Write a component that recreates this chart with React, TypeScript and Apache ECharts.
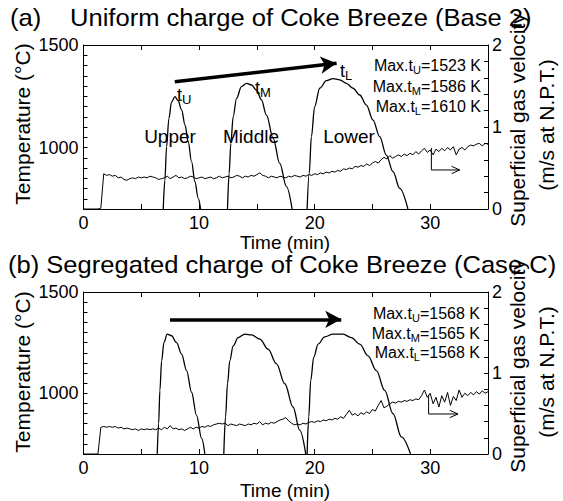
import React, { useEffect, useRef } from 'react';
import * as echarts from 'echarts';

const FONT = '"Liberation Sans", Arial, Helvetica, sans-serif';

// ---- Time axis ----
const TIME_MIN = 0;
const TIME_MAX = 35;
const TIME_LABELS = [0, 10, 20, 30];

// ---- Temperature axis (°C) ----
const TEMP_MIN = 700;
const TEMP_MAX = 1500;
const TEMP_LABELS = [1000, 1500];

// ---- Gas velocity axis (m/s at N.P.T.) ----
const VEL_MIN = 0;
const VEL_MAX = 2;
const VEL_LABELS = [0, 1, 2];

// ---- (a) Uniform charge: thermocouple temperatures ----
const UPPER_A_T = [6.9, 7.04, 7.19, 7.39, 7.62, 7.91, 8.19, 8.49, 8.78, 9.06, 9.35, 9.64, 9.93, 10.13];
const UPPER_A_V = [700, 841, 1004, 1142, 1223, 1248, 1228, 1183, 1110, 1028, 931, 833, 752, 700];
const MIDDLE_A_T = [12.46, 12.6, 12.75, 12.95, 13.24, 13.67, 14.1, 14.54, 14.97, 15.4, 15.83, 16.41, 16.98, 17.56, 18.05];
const MIDDLE_A_V = [700, 874, 1020, 1150, 1240, 1297, 1313, 1305, 1280, 1232, 1158, 1045, 923, 809, 700];
const LOWER_A_T = [19.35, 19.53, 19.72, 20.0, 20.44, 21.02, 21.59, 22.17, 22.75, 23.32, 23.9, 24.48, 25.05, 25.63, 26.2, 26.78, 27.36, 28.07];
const LOWER_A_V = [700, 874, 1053, 1199, 1289, 1326, 1336, 1330, 1313, 1289, 1256, 1207, 1134, 1053, 963, 882, 801, 700];

// ---- (b) Segregated charge: thermocouple temperatures ----
const UPPER_B_T = [6.38, 6.5, 6.61, 6.76, 6.96, 7.24, 7.62, 8.05, 8.49, 8.92, 9.35, 9.78, 10.22, 10.5];
const UPPER_B_V = [700, 850, 1014, 1161, 1250, 1292, 1284, 1250, 1193, 1112, 1005, 891, 777, 700];
const MIDDLE_B_T = [12.14, 12.29, 12.46, 12.66, 12.95, 13.38, 13.96, 14.54, 15.26, 15.97, 16.7, 17.42, 18.13, 18.71, 19.23];
const MIDDLE_B_V = [700, 883, 1047, 1161, 1234, 1275, 1292, 1288, 1267, 1218, 1145, 1047, 932, 818, 700];
const LOWER_B_T = [19.35, 19.49, 19.66, 19.92, 20.3, 20.87, 21.59, 22.46, 23.18, 23.9, 24.62, 25.34, 26.06, 26.78, 27.5, 28.3];
const LOWER_B_V = [700, 883, 1063, 1177, 1243, 1278, 1292, 1292, 1275, 1243, 1185, 1112, 1014, 899, 785, 700];

// ---- Superficial gas velocity records, sampled every TIME_STEP minutes from 0 ----
const TIME_STEP = 0.25;
const VEL_A = [
  0, 0, 0, 0, 0, 0, 0.01, 0.43, 0.41, 0.42, 0.4, 0.41, 0.38, 0.39, 0.36, 0.35, 0.37, 0.38, 0.37, 0.39,
  0.38, 0.39, 0.38, 0.4, 0.39, 0.38, 0.36, 0.37, 0.38, 0.4, 0.37, 0.39, 0.41, 0.38, 0.39, 0.37, 0.38, 0.4, 0.39, 0.37,
  0.38, 0.39, 0.37, 0.38, 0.39, 0.37, 0.38, 0.4, 0.38, 0.39, 0.4, 0.38, 0.39, 0.41, 0.4, 0.38, 0.4, 0.39, 0.41, 0.4,
  0.42, 0.44, 0.41, 0.4, 0.38, 0.4, 0.39, 0.38, 0.4, 0.39, 0.38, 0.4, 0.39, 0.41, 0.4, 0.39, 0.41, 0.4, 0.42, 0.41,
  0.43, 0.42, 0.44, 0.43, 0.45, 0.44, 0.46, 0.45, 0.47, 0.46, 0.49, 0.48, 0.5, 0.49, 0.52, 0.51, 0.53, 0.52, 0.55, 0.53,
  0.56, 0.58, 0.56, 0.6, 0.63, 0.61, 0.65, 0.62, 0.64, 0.66, 0.64, 0.67, 0.65, 0.68, 0.66, 0.7, 0.67, 0.71, 0.74, 0.69,
  0.72, 0.66, 0.73, 0.7, 0.74, 0.71, 0.75, 0.72, 0.76, 0.66, 0.73, 0.75, 0.72, 0.76, 0.78, 0.77, 0.79, 0.8, 0.77, 0.8,
  0.79,
];
const VEL_B = [
  0, 0, 0, 0, 0, 0, 0.33, 0.34, 0.33, 0.34, 0.33, 0.34, 0.32, 0.33, 0.31, 0.32, 0.31, 0.3, 0.31, 0.29,
  0.31, 0.3, 0.31, 0.3, 0.31, 0.3, 0.32, 0.3, 0.33, 0.31, 0.35, 0.31, 0.32, 0.3, 0.31, 0.29, 0.31, 0.33, 0.31, 0.33,
  0.32, 0.34, 0.33, 0.35, 0.34, 0.36, 0.37, 0.38, 0.37, 0.38, 0.35, 0.37, 0.36, 0.35, 0.37, 0.36, 0.35, 0.37, 0.36, 0.38,
  0.37, 0.4, 0.36, 0.38, 0.37, 0.39, 0.38, 0.4, 0.42, 0.43, 0.45, 0.41, 0.38, 0.36, 0.37, 0.36, 0.38, 0.37, 0.39, 0.4,
  0.39, 0.41, 0.4, 0.42, 0.41, 0.43, 0.42, 0.44, 0.43, 0.46, 0.44, 0.49, 0.54, 0.48, 0.5, 0.47, 0.51, 0.49, 0.52, 0.5,
  0.55, 0.53, 0.6, 0.66, 0.57, 0.59, 0.62, 0.64, 0.63, 0.65, 0.64, 0.66, 0.65, 0.67, 0.66, 0.68, 0.67, 0.72, 0.79, 0.7,
  0.75, 0.62, 0.7, 0.58, 0.72, 0.64, 0.76, 0.6, 0.71, 0.66, 0.79, 0.7, 0.75, 0.72, 0.76, 0.73, 0.77, 0.74, 0.78, 0.75,
  0.77,
];

// ---- Annotations (data coordinates) ----
const TREND_ARROW_A = [[7.9, 1321], [21.9, 1411]];
const TREND_ARROW_B = [[7.48, 1365], [22.3, 1365]];
const AXIS_HINT_A = [[30.1, 0.745], [30.1, 0.476], [32.55, 0.476]];
const AXIS_HINT_B = [[29.86, 0.728], [29.86, 0.494], [32.4, 0.494]];
const MAX_A = ['1523', '1586', '1610'];
const MAX_B = ['1568', '1565', '1568'];
const SUBS = ['U', 'M', 'L'];

const pairs = (xs: number[], ys: number[]) => xs.map((x, i) => [x, ys[i]]);
const velPairs = (vs: number[]) => vs.map((v, i) => [i * TIME_STEP, v]);

function App() {
  const ref = useRef<HTMLDivElement>(null);

  useEffect(() => {
    if (!ref.current) return;
    const chart = echarts.init(ref.current, undefined, { renderer: 'svg' });

    const black = '#000';
    const grids = [
      { left: 83.5, top: 45, width: 404.5, height: 164 },
      { left: 83.5, top: 292, width: 404.5, height: 162 },
    ];

    const xAxis = (gridIndex: number, position: string, showLabel: boolean) => ({
      type: 'value',
      gridIndex,
      position,
      min: TIME_MIN,
      max: TIME_MAX,
      interval: 5,
      axisLine: { show: true, onZero: false, lineStyle: { color: black, width: 1 } },
      axisTick: { show: true, inside: true, length: 5, lineStyle: { color: black, width: 1 } },
      axisLabel: {
        show: showLabel,
        color: black,
        fontSize: 18,
        fontFamily: FONT,
        margin: 5,
        formatter: (v: number) => (TIME_LABELS.includes(v) ? String(v) : ''),
      },
      splitLine: { show: false },
    });

    const yTemp = (gridIndex: number) => ({
      type: 'value',
      gridIndex,
      position: 'left',
      min: TEMP_MIN,
      max: TEMP_MAX,
      interval: 50,
      axisLine: { show: true, onZero: false, lineStyle: { color: black, width: 1 } },
      axisTick: { show: true, inside: true, length: 4, lineStyle: { color: black, width: 1 } },
      axisLabel: {
        color: black,
        fontSize: 18,
        fontFamily: FONT,
        margin: 5,
        formatter: (v: number) => (TEMP_LABELS.includes(v) ? String(v) : ''),
      },
      splitLine: { show: false },
    });

    const yVel = (gridIndex: number) => ({
      type: 'value',
      gridIndex,
      position: 'right',
      min: VEL_MIN,
      max: VEL_MAX,
      interval: 0.2,
      axisLine: { show: true, onZero: false, lineStyle: { color: black, width: 1 } },
      axisTick: { show: true, inside: true, length: 4, lineStyle: { color: black, width: 1 } },
      axisLabel: {
        color: black,
        fontSize: 18,
        fontFamily: FONT,
        margin: 4,
        formatter: (v: number) => {
          const r = Math.round(v);
          return Math.abs(v - r) < 1e-6 && VEL_LABELS.includes(r) ? String(r) : '';
        },
      },
      splitLine: { show: false },
    });

    const tempLine = (name: string, xi: number, yi: number, data: number[][]) => ({
      name,
      type: 'line',
      xAxisIndex: xi,
      yAxisIndex: yi,
      data,
      showSymbol: false,
      smooth: 0.35,
      smoothMonotone: 'x',
      lineStyle: { color: black, width: 1.3 },
      silent: true,
    });

    const velLine = (name: string, xi: number, yi: number, data: number[][]) => ({
      name,
      type: 'line',
      xAxisIndex: xi,
      yAxisIndex: yi,
      data,
      showSymbol: false,
      lineStyle: { color: black, width: 1 },
      silent: true,
    });

    const trend = (name: string, xi: number, yi: number, pts: number[][]) => ({
      name,
      type: 'line',
      xAxisIndex: xi,
      yAxisIndex: yi,
      data: [],
      silent: true,
      markLine: {
        silent: true,
        symbol: ['none', 'arrow'],
        symbolSize: [13, 16],
        label: { show: false },
        lineStyle: { color: black, width: 3.5, type: 'solid' },
        data: [[{ coord: pts[0] }, { coord: pts[1] }]],
      },
    });

    const hint = (name: string, xi: number, yi: number, pts: number[][]) => {
      const tip = pts[2];
      const head = [
        [tip[0] - 0.7, tip[1] + 0.045],
        tip,
        [tip[0] - 0.7, tip[1] - 0.045],
      ];
      return [
        {
          name,
          type: 'line',
          xAxisIndex: xi,
          yAxisIndex: yi,
          data: pts,
          showSymbol: false,
          lineStyle: { color: black, width: 1 },
          silent: true,
        },
        {
          name: name + '-head',
          type: 'line',
          xAxisIndex: xi,
          yAxisIndex: yi,
          data: head,
          showSymbol: false,
          lineStyle: { color: black, width: 1 },
          silent: true,
        },
      ];
    };

    const txt = (x: number, y: number, text: string, size: number, align = 'left', extra: any = {}) => ({
      type: 'text',
      x,
      y,
      silent: true,
      ...extra,
      style: {
        text,
        fill: black,
        fontSize: size,
        fontFamily: FONT,
        align,
        textAlign: align,
        verticalAlign: 'middle',
        textVerticalAlign: 'middle',
        ...(extra.style || {}),
      },
    });

    const subText = (x: number, y: number, main: string, sub: string, size: number, subSize: number, tail = '', align = 'left') => ({
      type: 'text',
      x,
      y,
      silent: true,
      style: {
        text: `{a|${main}}{s|${sub}}` + (tail ? `{a|${tail}}` : ''),
        fill: black,
        align,
        textAlign: align,
        verticalAlign: 'middle',
        textVerticalAlign: 'middle',
        rich: {
          a: { fontSize: size, fontFamily: FONT, fill: black, color: black, lineHeight: size + 4, verticalAlign: 'middle' },
          s: { fontSize: subSize, fontFamily: FONT, fill: black, color: black, lineHeight: subSize, verticalAlign: 'bottom' },
        },
      },
    });

    const rot = Math.PI / 2;
    const wide = { scaleX: 1.065 };
    const graphic: any[] = [
      // titles
      txt(10, 18, '(a)', 24, 'left', wide),
      txt(70, 18, 'Uniform charge of Coke Breeze (Base 2)', 24, 'left', wide),
      txt(8, 265, '(b) Segregated charge of Coke Breeze (Case C)', 24, 'left', wide),
      // axis names
      txt(22, 124, 'Temperature (°C)', 21, 'center', { rotation: rot }),
      txt(22, 372, 'Temperature (°C)', 21, 'center', { rotation: rot }),
      txt(517, 120, 'Superficial gas velocity', 21, 'center', { rotation: rot }),
      txt(546, 125, '(m/s at N.P.T.)', 21, 'center', { rotation: rot }),
      txt(517, 366, 'Superficial gas velocity', 21, 'center', { rotation: rot }),
      txt(546, 372, '(m/s at N.P.T.)', 21, 'center', { rotation: rot }),
      txt(285, 242, 'Time (min)', 19, 'center'),
      txt(285, 490, 'Time (min)', 19, 'center'),
      // panel (a) labels
      subText(177, 95, 't', 'U', 18, 13),
      subText(255, 88, 't', 'M', 18, 13),
      subText(340, 71, 't', 'L', 18, 13),
      txt(170, 136, 'Upper', 19, 'center'),
      txt(251, 136, 'Middle', 19, 'center'),
      txt(349, 136, 'Lower', 19, 'center'),
    ];
    const maxYA = [65, 86, 106];
    const maxYB = [313, 333, 352];
    SUBS.forEach((s, i) => {
      graphic.push(subText(481, maxYA[i], 'Max.t', s, 16, 11, `=${MAX_A[i]} K`, 'right'));
      graphic.push(subText(480, maxYB[i], 'Max.t', s, 16, 11, `=${MAX_B[i]} K`, 'right'));
    });

    const option: any = {
      animation: false,
      backgroundColor: '#fff',
      grid: grids,
      xAxis: [xAxis(0, 'bottom', true), xAxis(0, 'top', false), xAxis(1, 'bottom', true), xAxis(1, 'top', false)],
      yAxis: [yTemp(0), yVel(0), yTemp(1), yVel(1)],
      series: [
        tempLine('Upper (a)', 0, 0, pairs(UPPER_A_T, UPPER_A_V)),
        tempLine('Middle (a)', 0, 0, pairs(MIDDLE_A_T, MIDDLE_A_V)),
        tempLine('Lower (a)', 0, 0, pairs(LOWER_A_T, LOWER_A_V)),
        velLine('Gas velocity (a)', 0, 1, velPairs(VEL_A)),
        trend('trend (a)', 0, 0, TREND_ARROW_A),
        ...hint('hint (a)', 0, 1, AXIS_HINT_A),
        tempLine('Upper (b)', 2, 2, pairs(UPPER_B_T, UPPER_B_V)),
        tempLine('Middle (b)', 2, 2, pairs(MIDDLE_B_T, MIDDLE_B_V)),
        tempLine('Lower (b)', 2, 2, pairs(LOWER_B_T, LOWER_B_V)),
        velLine('Gas velocity (b)', 2, 3, velPairs(VEL_B)),
        trend('trend (b)', 2, 2, TREND_ARROW_B),
        ...hint('hint (b)', 2, 3, AXIS_HINT_B),
      ],
      graphic,
    };

    chart.setOption(option);
    return () => chart.dispose();
  }, []);

  return (
    <div
      ref={ref}
      style={{ position: 'fixed', left: 0, top: 0, width: 563, height: 501, background: '#fff' }}
    />
  );
}

export default App;
